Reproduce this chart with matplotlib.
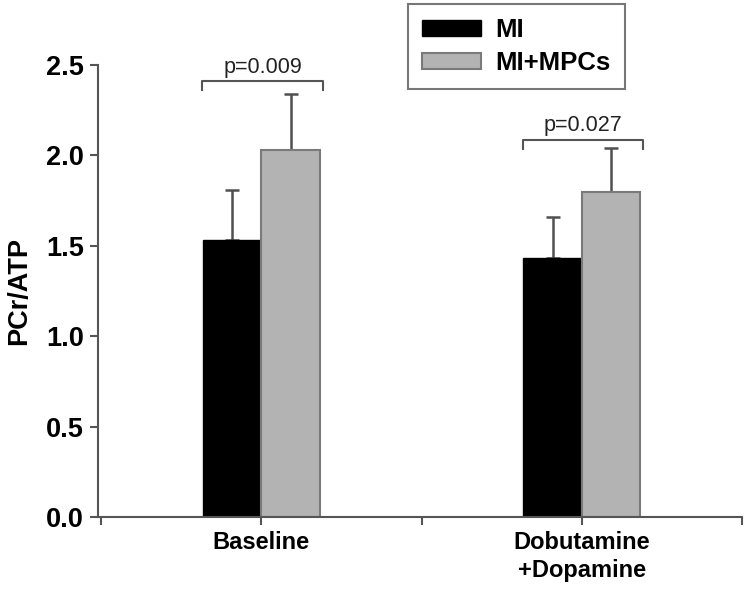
import matplotlib.pyplot as plt
import numpy as np

plt.rcParams['font.family'] = ['Liberation Sans', 'DejaVu Sans']

groups = ['Baseline', 'Dobutamine\n+Dopamine']
mi = [1.53, 1.43]
mi_err = [0.28, 0.23]
mpc = [2.03, 1.80]
mpc_err = [0.31, 0.24]
p_labels = ['p=0.009', 'p=0.027']
bracket_y = [2.41, 2.085]

pos = np.array([1, 3])
w = 0.365
axis_col = '#555555'

fig = plt.figure(figsize=(7.5, 5.89), dpi=100)
ax = fig.add_axes([98 / 750, 1 - 517 / 589, 644 / 750, 452 / 589])

ax.bar(pos - w / 2, mi, w, color='black', edgecolor='black', linewidth=1, label='MI', zorder=2)
ax.bar(pos + w / 2, mpc, w, color='#b3b3b3', edgecolor='#7a7a7a', linewidth=1.5, label='MI+MPCs', zorder=2)

# upward error bars only
ax.errorbar(pos - w / 2, mi, yerr=[np.zeros(2), mi_err], fmt='none', ecolor='#505050',
            elinewidth=1.8, capsize=5, capthick=1.8, zorder=1)
ax.errorbar(pos + w / 2, mpc, yerr=[np.zeros(2), mpc_err], fmt='none', ecolor='#505050',
            elinewidth=1.8, capsize=5, capthick=1.8, zorder=1)

# significance brackets
for x, y, lab in zip(pos, bracket_y, p_labels):
    x0, x1 = x - w - 0.005, x + w + 0.02
    ax.plot([x0, x0, x1, x1], [y - 0.05, y, y, y - 0.05], color='#555555', lw=1.5, clip_on=False)
    ax.text((x0 + x1) / 2, y + 0.02, lab, ha='center', va='bottom', fontsize=15.5, color='#222222')

ax.set_xlim(-0.02, 4)
ax.set_ylim(0, 2.5)
ax.set_yticks(np.arange(0, 2.51, 0.5))
ax.set_yticklabels(['%.1f' % v for v in np.arange(0, 2.51, 0.5)], fontsize=19.5, fontweight='bold')
ax.set_xticks([0, 1, 2, 3, 4])
ax.set_xticklabels(['', groups[0], '', groups[1], ''], fontsize=17, fontweight='bold',
                   linespacing=1.3)
ax.set_ylabel('PCr/ATP', fontsize=19.5, fontweight='bold', labelpad=10)

for s in ['top', 'right']:
    ax.spines[s].set_visible(False)
for s in ['left', 'bottom']:
    ax.spines[s].set_color(axis_col)
    ax.spines[s].set_linewidth(1.5)
ax.tick_params(axis='both', color=axis_col, width=1.5, length=6, pad=4)

leg = ax.legend(loc='upper left', bbox_to_anchor=(408 / 750, 1 - 4 / 589), bbox_transform=fig.transFigure,
                prop={'weight': 'bold', 'size': 18.5}, frameon=True, fancybox=False,
                handlelength=2.3, handleheight=0.6, labelspacing=0.35, handletextpad=0.55,
                borderpad=0.55, borderaxespad=0)
leg.get_frame().set_edgecolor('#555555')
leg.get_frame().set_linewidth(1.5)

fig.savefig('out.png', dpi=100)
